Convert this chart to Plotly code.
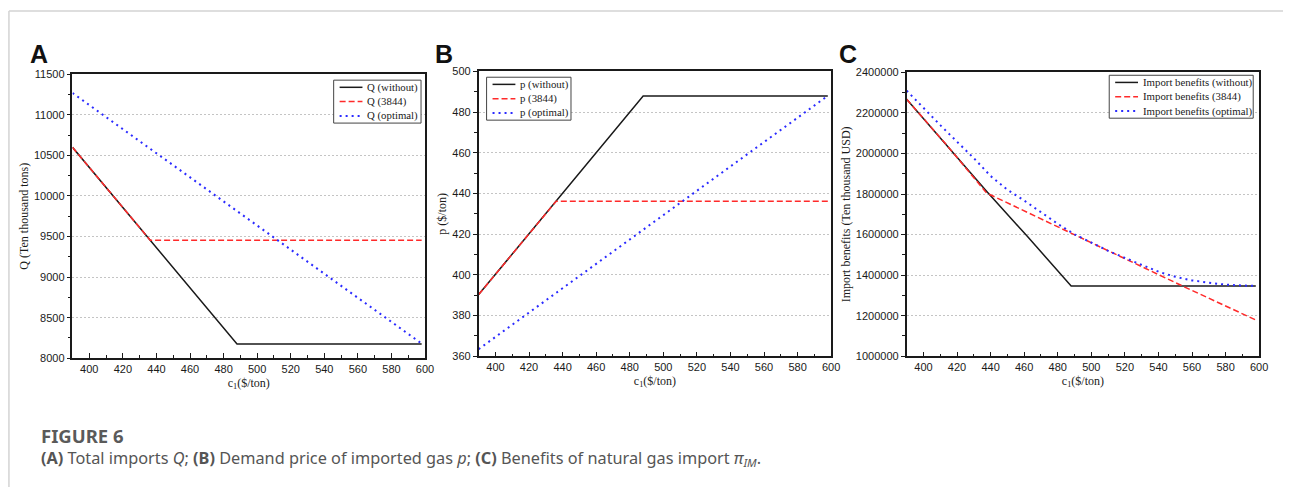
import plotly.graph_objects as go

# ---------------- data ----------------
# Panel A: total imports Q (ten thousand tons) vs c1 ($/ton)
c_Q_without = [390, 488, 598]
Q_without = [10600, 8175, 8175]
c_Q_3844 = [390, 436.3, 598]
Q_3844 = [10600, 9455, 9455]
c_Q_optimal = [390, 598]
Q_optimal = [11270, 8180]

# Panel B: demand price p ($/ton) vs c1
c_p_without = [390, 488, 598]
p_without = [390.3, 487.9, 487.9]
c_p_3844 = [390, 436.2, 598]
p_3844 = [390.3, 436.2, 436.2]
c_p_optimal = [390, 598]
p_optimal = [363.5, 488.0]

# Panel C: import benefits (ten thousand USD) vs c1
c_B_without = [390, 413, 438, 462, 488, 598]
B_without = [2267000, 2050000, 1810000, 1590000, 1347000, 1347000]
c_B_3844 = [390, 413, 437.6, 488, 520, 556, 598]
B_3844 = [2267000, 2050000, 1805000, 1606000, 1482000, 1340000, 1179000]
c_B_optimal = [390, 400, 410, 420, 430, 440, 450, 460, 470, 480, 490, 500,
               510, 520, 530, 540, 550, 560, 570, 580, 590, 598]
B_optimal = [2310000, 2224000, 2140000, 2058000, 1977000, 1889000, 1821000,
             1768000, 1711000, 1653000, 1601000, 1561000, 1520000, 1485000,
             1451000, 1417000, 1392000, 1374000, 1363000, 1353000, 1349000,
             1347000]

x_ticks = [400, 420, 440, 460, 480, 500, 520, 540, 560, 580, 600]

legend_A = ["Q (without)", "Q (3844)", "Q (optimal)"]
legend_B = ["p (without)", "p (3844)", "p (optimal)"]
legend_C = ["Import benefits (without)", "Import benefits (3844)", "Import benefits (optimal)"]

# ---------------- layout helpers ----------------
W, H = 1292, 493


def fx(p):
    return p / W


def fy(p):
    return 1 - p / H


BLACK = "#1a1a1a"
RED = "#ff2a2a"
BLUE = "#2b2bff"
STYLES = [
    dict(color=BLACK, width=1.5, dash="solid"),
    dict(color=RED, width=1.5, dash="6px,3px"),
    dict(color=BLUE, width=2, dash="2px,4px"),
]

TICKFONT = dict(family="Liberation Sans, Arial, sans-serif", size=11, color="#1a1a1a")
SERIF = "Liberation Serif, Times New Roman, serif"

panels = [
    dict(box=(73, 428, 70, 361), yr=[8000, 11500], dy=500, ytitle="Q (Ten thousand tons)",
         series=[(c_Q_without, Q_without), (c_Q_3844, Q_3844), (c_Q_optimal, Q_optimal)],
         legend=legend_A, lbox=(336, 424, 76, 120), letter=("A", 28)),
    dict(box=(482, 837, 67, 359), yr=[360, 500], dy=20, ytitle="p ($/ton)",
         series=[(c_p_without, p_without), (c_p_3844, p_3844), (c_p_optimal, p_optimal)],
         legend=legend_B, lbox=(490, 575, 73, 117), letter=("B", 436)),
    dict(box=(913, 1268, 68, 359), yr=[1000000, 2400000], dy=200000,
         ytitle="Import benefits (Ten thousand USD)",
         series=[(c_B_without, B_without), (c_B_3844, B_3844), (c_B_optimal, B_optimal)],
         legend=legend_C, lbox=(1117, 1262, 71, 115), letter=("C", 843)),
]

fig = go.Figure()
shapes = []
annotations = []

for i, pnl in enumerate(panels):
    k = "" if i == 0 else str(i + 1)
    x0, x1, y0, y1 = pnl["box"]
    for (xs, ys), name, st in zip(pnl["series"], pnl["legend"], STYLES):
        fig.add_trace(go.Scatter(
            x=xs, y=ys, mode="lines", name=name, showlegend=False,
            line=dict(color=st["color"], width=st["width"], dash=st["dash"]),
            xaxis="x" + k, yaxis="y" + k, hoverinfo="skip"))

    fig.layout["xaxis" + k] = dict(
        domain=[fx(x0), fx(x1)], anchor="y" + k, range=[390, 600],
        tickmode="array", tickvals=x_ticks, ticks="inside", ticklen=5, tickwidth=1.3,
        tickcolor=BLACK,
        minor=dict(tickmode="array", tickvals=list(range(410, 600, 20)), ticks="inside",
                   ticklen=3, tickwidth=1, tickcolor=BLACK),
        showline=True, linecolor=BLACK, linewidth=1.5, mirror=True,
        showgrid=False, zeroline=False, tickfont=TICKFONT,
        title=dict(text="c<sub>1</sub>($/ton)", font=dict(family=SERIF, size=12, color="#1a1a1a"),
                   standoff=4))
    fig.layout["yaxis" + k] = dict(
        domain=[fy(y1), fy(y0)], anchor="x" + k, range=pnl["yr"], dtick=pnl["dy"],
        tick0=pnl["yr"][0], ticks="outside", ticklen=4, tickwidth=1.3, tickcolor=BLACK,
        minor=dict(dtick=pnl["dy"] / 2, tick0=pnl["yr"][0], ticks="outside", ticklen=3,
                   tickwidth=1, tickcolor=BLACK),
        showline=True, linecolor=BLACK, linewidth=1.5, mirror=True,
        showgrid=True, gridcolor="#c4c4c4", griddash="2px,2px", gridwidth=1,
        zeroline=False, tickfont=TICKFONT, tickformat="d",
        title=dict(text=pnl["ytitle"], font=dict(family=SERIF, size=12, color="#1a1a1a"),
                   standoff=3))

    # legend box (drawn manually to match the compact Origin style)
    lx0, lx1, ly0, ly1 = pnl["lbox"]
    shapes.append(dict(type="rect", xref="paper", yref="paper",
                       x0=fx(lx0), x1=fx(lx1), y0=fy(ly1), y1=fy(ly0),
                       line=dict(color="#444444", width=1), fillcolor="white", layer="above"))
    row_h = (ly1 - ly0) / 3.0
    for j, (name, st) in enumerate(zip(pnl["legend"], STYLES)):
        yc = ly0 + row_h * (j + 0.5)
        shapes.append(dict(type="line", xref="paper", yref="paper",
                           x0=fx(lx0 + 6), x1=fx(lx0 + 29), y0=fy(yc), y1=fy(yc),
                           line=dict(color=st["color"], width=st["width"], dash=st["dash"]),
                           layer="above"))
        annotations.append(dict(xref="paper", yref="paper", x=fx(lx0 + 32), y=fy(yc),
                                text=name, showarrow=False, xanchor="left", yanchor="middle",
                                font=dict(family=SERIF, size=10.8, color="#1a1a1a")))

    # panel letter
    letter, lxp = pnl["letter"]
    annotations.append(dict(xref="paper", yref="paper", x=fx(lxp), y=fy(49), text="<b>%s</b>" % letter,
                            showarrow=False, xanchor="left", yanchor="middle",
                            font=dict(family="Liberation Sans, Arial, sans-serif", size=25, color="#111111")))

# outer frame (top and left rules)
shapes.append(dict(type="line", xref="paper", yref="paper", x0=fx(9), x1=1, y0=fy(5), y1=fy(5),
                   line=dict(color="#d3d3d3", width=1.5)))
shapes.append(dict(type="line", xref="paper", yref="paper", x0=fx(9), x1=fx(9), y0=0, y1=fy(5),
                   line=dict(color="#d3d3d3", width=1.5)))

# caption
annotations.append(dict(xref="paper", yref="paper", x=fx(39), y=fy(440), text="<b>FIGURE 6</b>",
                        showarrow=False, xanchor="left", yanchor="middle",
                        font=dict(family="Noto Sans, sans-serif", size=18.5, color="#5a5a5a")))
annotations.append(dict(xref="paper", yref="paper", x=fx(39), y=fy(464),
                        text="<b>(A)</b> Total imports <i>Q</i>; <b>(B)</b> Demand price of imported gas <i>p</i>; "
                             "<b>(C)</b> Benefits of natural gas import <i>π</i><sub><i>IM</i></sub>.",
                        showarrow=False, xanchor="left", yanchor="middle",
                        font=dict(family="Noto Sans, sans-serif", size=16.3, color="#555555")))

fig.update_layout(width=W, height=H, autosize=False, margin=dict(l=0, r=0, t=0, b=0),
                  paper_bgcolor="white", plot_bgcolor="white", showlegend=False,
                  shapes=shapes, annotations=annotations)

fig.write_html("out.html", config={"displayModeBar": False},
               post_script="document.body.style.margin='0px';document.body.style.overflow='hidden';")
